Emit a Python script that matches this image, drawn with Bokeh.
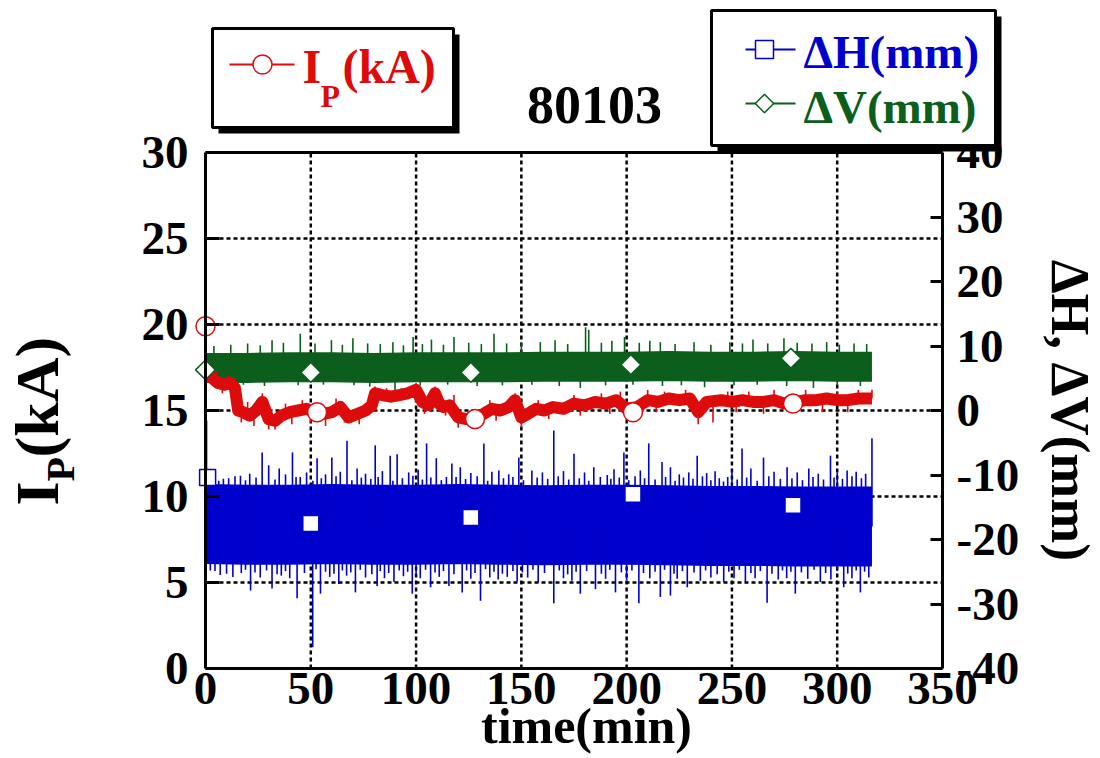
import math
import numpy as np
from bokeh.plotting import figure
from bokeh.models import Range1d, LinearAxis, Label, BoxAnnotation, FixedTicker
from bokeh.embed import file_html
from bokeh.resources import INLINE

# ---------------- data ----------------
ip_t = [0, 0.5, 3, 6, 9, 12, 14, 15.5, 18, 21, 24, 27, 30, 33, 36, 40, 44, 48, 52, 56,
        60, 64, 68, 72, 76, 79, 80.5, 84, 88, 92, 96, 100, 103, 106, 109, 111, 113, 116, 120, 124,
        128, 132, 136, 140, 144, 147, 150, 153, 157, 161, 165, 170, 175, 180, 185, 190, 195, 200, 205, 210,
        215, 220, 225, 230, 234, 238, 245, 250, 255, 260, 265, 270, 275, 280, 285, 290, 295, 300, 305, 310,
        316.5]
ip_kA = [19.9, 17.0, 16.9, 16.6, 16.5, 16.6, 16.3, 15.0, 14.9, 14.7, 15.0, 15.5, 14.5, 14.4, 14.7, 14.9, 15.0, 15.1, 14.9, 14.8,
         14.9, 15.2, 14.6, 14.8, 15.0, 15.3, 16.0, 15.9, 15.8, 15.9, 16.0, 16.2, 15.5, 15.3, 16.0, 15.4, 15.2, 15.3, 14.6, 14.5,
         14.6, 14.8, 15.1, 15.0, 15.2, 15.6, 14.6, 14.8, 15.1, 15.0, 15.2, 15.1, 15.4, 15.3, 15.5, 15.4, 15.6, 15.1, 15.2, 15.6,
         15.5, 15.7, 15.6, 15.7, 14.9, 15.5, 15.6, 15.5, 15.6, 15.5, 15.5, 15.6, 15.4, 15.5, 15.6, 15.6, 15.7, 15.6, 15.6, 15.7,
         15.7]
ip_spike_t = [5, 11, 20, 27, 38, 46, 62, 80.5, 86, 93, 100, 109, 118, 135, 147, 158, 175, 188, 197, 210,
              218, 228, 248, 258, 270, 285, 300, 310, 316.5,
              8, 17, 23, 30, 33, 41, 50, 57, 66, 73, 104, 114, 120, 126, 138, 150, 163, 178, 192, 202,
              214, 234, 241, 252, 265, 278, 293, 305]
ip_spike_tip = [17.3, 17.0, 15.5, 16.0, 15.4, 15.6, 15.7, 16.4, 16.3, 16.3, 16.6, 16.4, 15.9, 15.6, 16.0, 15.6, 15.9, 16.0, 16.1, 16.2,
                16.1, 16.2, 16.1, 16.1, 16.2, 16.2, 16.1, 16.2, 16.2,
                16.0, 14.3, 14.1, 13.9, 13.9, 14.2, 14.3, 14.1, 14.3, 14.2, 14.8, 14.7, 14.0, 14.0, 14.4, 14.0, 14.5, 14.7, 14.8, 14.6,
                14.9, 14.2, 14.3, 14.9, 14.8, 14.9, 14.9, 14.9]
ip_mk_t = [0, 53, 128, 203, 279]
ip_mk = [19.9, 14.9, 14.5, 14.9, 15.4]

dv_t = [0, 20, 40, 60, 80, 100, 120, 140, 160, 180, 200, 220, 240, 260, 280, 300, 316.5]
dv_mm = [6.6, 6.6, 6.7, 6.7, 6.6, 6.7, 6.7, 6.7, 6.8, 6.8, 6.8, 6.9, 6.8, 6.8, 6.9, 6.8, 6.8]
dv_spike_t = [4, 12, 20, 26, 31.6, 37, 45, 52, 59.8, 65, 70, 77, 83, 89, 94, 98.6, 103, 107.3, 113, 118,
              125, 131, 137, 143, 150, 159, 166, 172, 180.5, 182, 188, 193, 199, 206, 211, 216, 223, 232, 240, 249,
              255, 260, 267, 274.7, 281, 288, 295, 301, 308, 314,
              6, 18, 28, 44, 56, 70.5, 78, 90, 102, 115, 129, 141, 155, 168, 178, 190, 203, 217, 226, 237,
              251, 262, 276, 288.7, 300, 311]
dv_spike_tip = [10.0, 10.2, 10.4, 10.1, 10.9, 10.5, 11.9, 10.4, 10.9, 10.2, 11.2, 10.4, 10.3, 10.6, 10.1, 11.4, 10.3, 11.0, 10.2, 11.4,
                10.5, 10.3, 11.9, 10.4, 10.6, 10.6, 10.9, 10.3, 12.9, 12.5, 10.5, 10.8, 11.4, 10.5, 10.8, 10.6, 10.3, 10.6, 10.2, 10.6,
                10.4, 11.0, 10.4, 11.2, 10.5, 10.4, 10.6, 10.2, 10.4, 10.3,
                3.9, 4.0, 3.8, 3.9, 4.0, 3.9, 3.7, 2.8, 3.9, 4.0, 3.8, 3.9, 4.0, 3.8, 3.5, 3.9, 4.0, 3.8, 3.9, 3.6,
                3.9, 4.0, 3.8, 3.5, 3.9, 3.8]
dv_mk_t = [0, 50, 126, 202, 278]
dv_mk = [6.3, 5.9, 5.9, 7.1, 8.1]

dh_t = [0, 20, 40, 60, 80, 100, 120, 140, 160, 180, 200, 220, 240, 260, 280, 300, 316.5]
dh_mm = [-17.6, -17.7, -17.7, -17.6, -17.7, -17.7, -17.6, -17.7, -17.8, -17.7, -17.7, -17.8, -17.9, -17.9, -18.0, -18.0, -18.0]
dh_spike_t = [0.5, 3, 6.3, 11, 16.6, 21, 26.9, 30, 35, 38, 41.3, 45, 48, 53, 57, 60, 64, 67.2, 72, 76,
              80.6, 84, 87.7, 91, 96.5, 101, 105, 109.6, 114.4, 117, 121, 126, 132.2, 136, 139.3, 144, 148.8, 155, 160, 165.4,
              170, 175, 180, 184.4, 190.8, 194, 198.7, 206.5, 210.5, 216.8, 220.8, 225, 229.5, 233.5, 238, 242, 246, 250, 254.8, 259,
              265, 270, 276.2, 281, 286.5, 291, 296.8, 300, 304.7, 309, 313.5, 316.5,
              8.5, 14, 19, 24, 33, 43, 51, 55, 62, 69.5, 74, 78.5, 82, 89, 93.5, 98.5, 103, 107, 112, 119,
              123.5, 129, 134, 141.5, 146, 151, 157.5, 162.5, 167.5, 172.5, 177.5, 182, 187.5, 192.5, 196.5, 201, 204, 208.5, 213.5, 218.5,
              223, 227, 231.5, 236, 240, 244, 248, 252.5, 257, 262, 267.5, 273, 278.5, 283.5, 288.5, 293.5, 298.5, 302.5, 307, 311.5,
              2.3, 7, 13, 17, 21.4, 26, 31.6, 36, 40, 43.5, 50.9, 54.6, 59, 63.3, 67, 71.2, 76, 81.5, 85, 89.5,
              94, 98.2, 102, 106.9, 111, 115.6, 121.9, 126, 130.6, 135, 139, 143.3, 148, 153, 158, 165.4, 170, 174, 178, 185.2,
              190, 194.7, 200, 205.8, 211, 216, 220.8, 224, 228.8, 235, 240, 246.1, 251, 256.4, 261, 266.7, 272, 276, 280.1, 286,
              292, 297, 303.1, 307, 311, 315,
              4.5, 10, 19, 23.5, 29, 34, 38, 47, 52.5, 57, 61, 65, 69, 73.5, 79, 83, 87, 92, 96, 100,
              104.5, 109, 113, 118, 124, 128, 133, 137, 141, 146, 150.5, 155.5, 161, 168, 172, 176, 181, 188, 192, 197.5,
              202.5, 208, 213.5, 218, 222.5, 226.5, 232, 237.5, 243, 248.5, 253.5, 259, 263.5, 269, 274, 278, 283, 289, 294.5, 300,
              305, 309, 313]
dh_spike_tip = [-1.6, -9.5, -10.9, -10.5, -10.1, -9.8, -6.5, -8.5, -9.0, -9.9, -6.5, -10.3, -9.6, -7.4, -9.9, -7.3, -9.5, -4.7, -9.0, -9.8,
                -5.4, -9.4, -7.0, -6.8, -9.6, -9.2, -5.1, -7.4, -10.3, -8.2, -8.8, -9.7, -5.1, -9.5, -9.3, -9.9, -7.3, -9.3, -9.6, -3.1,
                -9.4, -6.7, -9.6, -8.8, -10.0, -9.1, -6.5, -9.3, -5.1, -8.0, -8.8, -9.9, -9.6, -7.0, -9.7, -9.4, -11.0, -9.2, -5.9, -9.0,
                -7.3, -9.5, -8.8, -9.6, -9.0, -9.8, -7.0, -9.6, -9.3, -9.5, -9.8, -4.3,
                -10.6, -10.2, -10.8, -10.4, -10.7, -10.3, -10.9, -10.5, -10.2, -10.8, -10.4, -10.6, -10.3, -10.9, -10.5, -10.1, -10.7, -10.4, -10.8, -10.3,
                -10.6, -10.2, -10.9, -10.5, -10.3, -10.8, -10.4, -10.6, -10.2, -10.7, -10.5, -10.9, -10.3, -10.6, -10.4, -10.8, -10.2, -10.5, -10.7, -10.3,
                -10.9, -10.4, -10.6, -10.2, -10.8, -10.5, -10.3, -10.7, -10.4, -10.9, -10.2, -10.6, -10.5, -10.8, -10.3, -10.7, -10.4, -10.6, -10.2, -10.5,
                -24.8, -25.5, -25.8, -25.2, -27.9, -25.9, -27.6, -25.6, -26.0, -29.1, -36.7, -28.4, -25.8, -26.9, -25.6, -28.2, -25.9, -27.2, -26.0, -26.6,
                -25.7, -28.4, -26.0, -27.4, -25.8, -27.2, -28.2, -26.1, -29.5, -25.9, -26.2, -25.8, -26.5, -25.9, -26.7, -29.9, -26.0, -26.4, -28.4, -27.7,
                -26.1, -28.2, -26.3, -29.9, -26.0, -28.9, -28.7, -26.1, -27.4, -26.4, -25.9, -26.6, -26.0, -26.6, -26.0, -29.8, -26.2, -26.0, -28.4, -26.1,
                -26.6, -26.2, -27.4, -26.0, -28.2, -25.9,
                -24.9, -25.3, -24.7, -25.1, -24.8, -25.4, -24.9, -25.2, -24.6, -25.0, -25.3, -24.8, -25.1, -24.7, -25.4, -24.9, -25.2, -24.8, -25.0, -25.3,
                -24.7, -25.1, -24.9, -25.4, -24.8, -25.2, -24.6, -25.0, -25.3, -24.9, -25.1, -24.7, -25.2, -24.8, -25.4, -25.0, -24.9, -25.3, -24.7, -25.1,
                -24.8, -25.2, -25.0, -24.7, -25.3, -24.9, -25.1, -24.8, -25.4, -25.0, -24.7, -25.2, -24.9, -25.3, -24.8, -25.0, -25.1, -24.7, -25.2, -24.9,
                -25.3, -24.8, -25.0]
dh_mk_t = [1, 50, 126, 203, 279]
dh_mk = [-10.4, -17.5, -16.6, -13.0, -14.7]

x_ticks = [0, 50, 100, 150, 200, 250, 300, 350]
ip_ticks = [0, 5, 10, 15, 20, 25, 30]
dev_ticks = [-40, -30, -20, -10, 0, 10, 20, 30, 40]

# ---------------- styling / layout ----------------
RED = "#dd0b0b"
BLUE = "#0000cc"
GREEN = "#0b5e1c"
FONT = "Liberation Serif"

W, H = 1100, 758
FL, FR, FT, FB = 205, 942, 152, 668          # pixel box of the data area
XMIN, XMAX, YMIN, YMAX = 0.0, 350.0, 0.0, 30.0
DMIN, DMAX = -40.0, 40.0


def dx(px):
    return XMIN + (px - FL) * (XMAX - XMIN) / (FR - FL)


def dy(py):
    return YMIN + (FB - py) * (YMAX - YMIN) / (FB - FT)


def dd(py):
    return DMIN + (FB - py) * (DMAX - DMIN) / (FB - FT)


p = figure(width=W, height=H, output_backend="svg", toolbar_location=None,
           x_range=Range1d(dx(0), dx(W)), y_range=Range1d(dy(H), dy(0)),
           min_border=0, min_border_left=0, min_border_right=0, min_border_top=0, min_border_bottom=0,
           background_fill_color="white", border_fill_color="white")
p.title.visible = False
p.extra_y_ranges = {"dev": Range1d(dd(H), dd(0))}
p.outline_line_color = None
p.xgrid.visible = False
p.ygrid.visible = False


def style_axis(ax, tick_in):
    ax.axis_line_width = 3
    ax.axis_line_color = "black"
    ax.major_tick_line_width = 3
    ax.major_tick_line_color = "black"
    ax.minor_tick_line_color = None
    ax.major_tick_in = tick_in
    ax.major_tick_out = 0
    ax.major_label_text_font = FONT
    ax.major_label_text_font_style = "bold"
    ax.major_label_text_font_size = "47px"
    ax.major_label_text_color = "black"


xax = p.xaxis[0]
xax.ticker = FixedTicker(ticks=x_ticks)
xax.fixed_location = YMIN
xax.bounds = (XMIN, XMAX)
style_axis(xax, 0)
xax.major_label_standoff = 4

yax = p.yaxis[0]
yax.ticker = FixedTicker(ticks=ip_ticks)
yax.fixed_location = XMIN
yax.bounds = (YMIN, YMAX)
style_axis(yax, 14)
yax.major_label_standoff = 17

rax = LinearAxis(y_range_name="dev", ticker=FixedTicker(ticks=dev_ticks))
rax.fixed_location = XMAX
rax.bounds = (DMIN, DMAX)
style_axis(rax, 12)
rax.major_label_standoff = 14
rax.major_label_overrides = {v: ("%d" % v) for v in dev_ticks}
p.add_layout(rax, "right")

tax = LinearAxis(ticker=FixedTicker(ticks=[]))
tax.fixed_location = YMAX
tax.bounds = (XMIN, XMAX)
style_axis(tax, 0)
p.add_layout(tax, "above")

# dashed grid at the tick positions, inside the data box
gx = x_ticks[1:-1]
gy = ip_ticks[1:-1]
p.segment(x0=gx, y0=[YMIN] * len(gx), x1=gx, y1=[YMAX] * len(gx),
          line_color="black", line_width=2.5, line_dash="4 3")
p.segment(x0=[XMIN] * len(gy), y0=gy, x1=[XMAX] * len(gy), y1=gy,
          line_color="black", line_width=2.5, line_dash="4 3")

# ---------------- traces ----------------
p.line(dv_t, dv_mm, y_range_name="dev", line_color=GREEN, line_width=30, line_join="round")
g_base = np.interp(dv_spike_t, dv_t, dv_mm)
p.segment(x0=dv_spike_t, y0=g_base, x1=dv_spike_t, y1=dv_spike_tip, y_range_name="dev",
          line_color=GREEN, line_width=1.6)

p.line(dh_t, dh_mm, y_range_name="dev", line_color=BLUE, line_width=80, line_join="round")
b_base = np.interp(dh_spike_t, dh_t, dh_mm)
p.segment(x0=dh_spike_t, y0=b_base, x1=dh_spike_t, y1=dh_spike_tip, y_range_name="dev",
          line_color=BLUE, line_width=1.6)

p.line(ip_t[:2], ip_kA[:2], line_color=RED, line_width=1.5)
p.line(ip_t[1:], ip_kA[1:], line_color=RED, line_width=12, line_join="round")
r_base = np.interp(ip_spike_t, ip_t, ip_kA)
p.segment(x0=ip_spike_t, y0=r_base, x1=ip_spike_t, y1=ip_spike_tip, line_color=RED, line_width=1.6)

p.scatter(ip_mk_t, ip_mk, marker="circle", size=19, fill_color="white", line_color=RED, line_width=1.5)
p.scatter(dh_mk_t, dh_mk, y_range_name="dev", marker="square", size=16, fill_color="white",
          line_color=BLUE, line_width=1.5)
p.scatter(dv_mk_t, dv_mk, y_range_name="dev", marker="square", angle=math.pi / 4, size=14,
          fill_color="white", line_color=GREEN, line_width=1.5)


# ---------------- texts ----------------
BASE_SHIFT = 0.38   # Label's 'alphabetic' anchor sits this fraction of the font size above the baseline


def lab(text, px, py, size_px, color="black", align="left", angle=0.0):
    s = BASE_SHIFT * size_px
    ax_ = px - s * math.sin(angle)
    ay_ = py - s * math.cos(angle)
    l = Label(x=dx(ax_), y=dy(ay_), text=text, text_font=FONT, text_font_style="bold",
              text_font_size="%dpx" % size_px, text_color=color, text_align=align,
              text_baseline="alphabetic", angle=angle)
    p.add_layout(l)
    return l


lab("80103", 594, 125, 54, align="center")
lab("time(min)", 586, 744, 50, align="center")

# left axis title I_P(kA), read bottom to top (baseline on the right side)
lab("I", 60, 505, 62, angle=math.pi / 2)
lab("P", 75, 481, 40, angle=math.pi / 2)
lab("(kA)", 60, 457, 62, angle=math.pi / 2)

# right axis title, read top to bottom (baseline on the left side)
lab("ΔH, ΔV(mm)", 1049, 410, 54, align="center", angle=-math.pi / 2)


# ---------------- legend boxes ----------------
def box(l, t, r, b, fill, lw=0):
    p.add_layout(BoxAnnotation(left=dx(l), right=dx(r), top=dy(t), bottom=dy(b),
                               fill_color=fill, fill_alpha=1.0,
                               line_color="black" if lw else None, line_width=lw, line_alpha=1.0))


box(218, 34, 459, 133, "black")
box(212, 28, 453, 127, "white", lw=3)
box(717, 16, 1001, 151, "black")
box(711, 10, 995, 145, "white", lw=3)

# legend symbols (line + marker), placed in pixel terms
p.line([dx(229), dx(294)], [dy(64), dy(64)], line_color=RED, line_width=2, level="overlay")
p.scatter([dx(262)], [dy(64)], marker="circle", size=19, fill_color="white", line_color=RED,
          line_width=1.5, level="overlay")
p.line([dx(745), dx(795)], [dy(49), dy(49)], line_color=BLUE, line_width=2, level="overlay")
p.scatter([dx(764)], [dy(49)], marker="square", size=18, fill_color="white", line_color=BLUE,
          line_width=1.5, level="overlay")
p.line([dx(745), dx(795)], [dy(103), dy(103)], line_color=GREEN, line_width=2, level="overlay")
p.scatter([dx(764)], [dy(103)], marker="square", angle=math.pi / 4, size=13, fill_color="white",
          line_color=GREEN, line_width=1.5, level="overlay")

lab("I", 302, 84, 48, color=RED)
lab("P", 320, 108, 32, color=RED)
lab("(kA)", 342, 84, 48, color=RED)
lab("ΔH(mm)", 803, 69, 47, color=BLUE)
lab("ΔV(mm)", 803, 124, 47, color=GREEN)

open("out.html", "w").write(file_html(p, INLINE))
